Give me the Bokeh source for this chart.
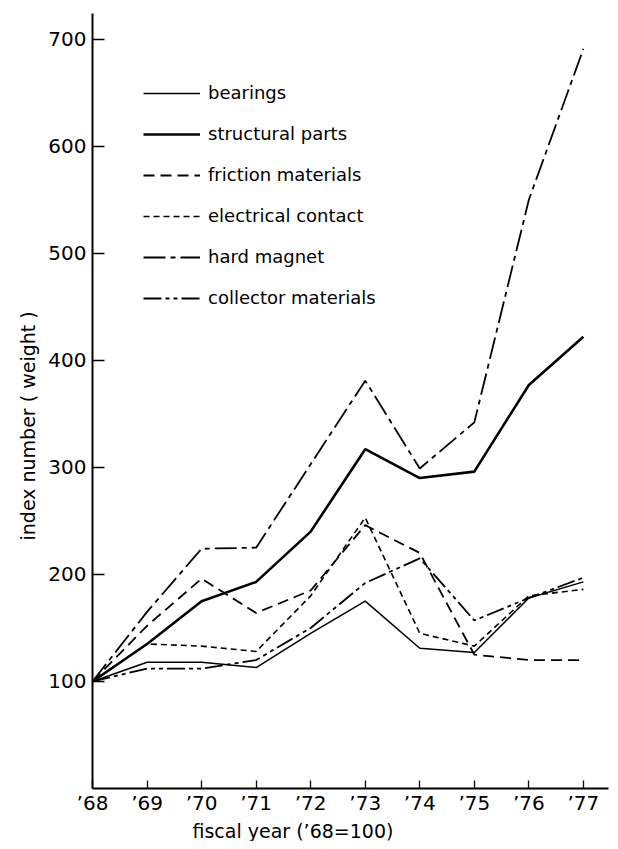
from bokeh.plotting import figure
from bokeh.models import Range1d, FixedTicker, Legend, LegendItem, Title
from bokeh.embed import file_html
from bokeh.resources import INLINE

years = [1968, 1969, 1970, 1971, 1972, 1973, 1974, 1975, 1976, 1977]
year_labels = ["\u201968", "\u201969", "\u201970", "\u201971", "\u201972",
               "\u201973", "\u201974", "\u201975", "\u201976", "\u201977"]
y_ticks = [100, 200, 300, 400, 500, 600, 700]

bearings = [100, 118, 118, 113, 145, 175, 131, 127, 178, 193]
structural_parts = [100, 135, 175, 193, 240, 317, 290, 296, 377, 422]
friction_materials = [100, 152, 196, 164, 185, 246, 220, 125, 120, 120]
electrical_contact = [100, 135, 133, 128, 180, 253, 145, 133, 180, 186]
hard_magnet = [100, 165, 224, 225, 303, 381, 299, 342, 550, 691]
collector_materials = [100, 112, 112, 120, 150, 192, 215, 157, 178, 197]

FONT = "DejaVu Sans"

p = figure(width=610, height=841, output_backend="svg", toolbar_location=None,
           x_range=Range1d(1968, 1977.46), y_range=Range1d(0, 724),
           min_border_left=92, min_border_right=2, min_border_top=13,
           min_border_bottom=51)
p.outline_line_color = None
p.xgrid.grid_line_color = None
p.ygrid.grid_line_color = None
p.background_fill_color = "white"
p.border_fill_color = "white"

p.xaxis.ticker = FixedTicker(ticks=years)
p.xaxis.major_label_overrides = {y: l for y, l in zip(years, year_labels)}
p.yaxis.ticker = FixedTicker(ticks=y_ticks)
for ax in (p.xaxis, p.yaxis):
    ax.axis_line_width = 2
    ax.axis_line_color = "black"
    ax.major_tick_out = 0
    ax.major_tick_line_width = 1.3
    ax.major_tick_line_color = "black"
    ax.minor_tick_line_color = None
    ax.major_label_text_font = FONT
    ax.major_label_text_font_size = "20px"
    ax.major_label_text_color = "black"
p.xaxis.major_tick_in = 8
p.yaxis.major_tick_in = 12
p.xaxis.major_label_standoff = 2
p.yaxis.major_label_standoff = 6

series = [
    ("bearings", bearings, 1.5, "solid"),
    ("structural parts", structural_parts, 2.6, "solid"),
    ("friction materials", friction_materials, 1.8, "11 6"),
    ("electrical contact", electrical_contact, 1.6, "6 4"),
    ("hard magnet", hard_magnet, 1.8, "22 5 5 5"),
    ("collector materials", collector_materials, 1.8, "18 4 4 4 4 4"),
]

items = []
for name, vals, lw, dash in series:
    r = p.line(years, vals, line_color="black", line_width=lw, line_dash=dash)
    items.append(LegendItem(label=name, renderers=[r]))

legend = Legend(items=items, location=(51, 480), orientation="vertical",
                glyph_width=57, glyph_height=20, label_height=20, spacing=20,
                label_standoff=8, padding=0, margin=0,
                border_line_color=None, background_fill_alpha=0,
                label_text_font=FONT, label_text_font_size="18px",
                label_text_color="black")
p.add_layout(legend)

xlab = Title(text="fiscal year (\u201968=100)", align="left", offset=100,
             text_font=FONT, text_font_size="19px", text_font_style="normal",
             text_color="black", standoff=0)
p.add_layout(xlab, "below")
ylab = Title(text="index number ( weight )", align="left", offset=248,
             text_font=FONT, text_font_size="19px", text_font_style="normal",
             text_color="black", standoff=14)
p.add_layout(ylab, "left")

open("out.html", "w").write(file_html(p, INLINE))
